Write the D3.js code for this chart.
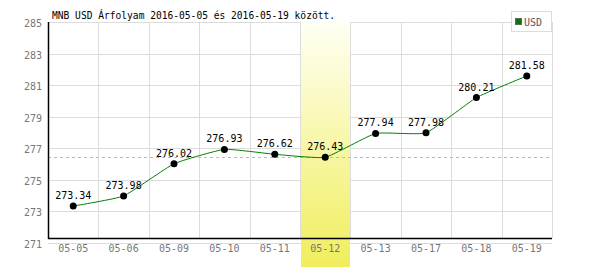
<!DOCTYPE html>
<html>
<head>
<meta charset="utf-8">
<script src="https://cdn.jsdelivr.net/npm/d3@7"></script>
<style>
  body { margin: 0; background: #fff; }
  text { font-family: "DejaVu Sans Mono", monospace; }
</style>
</head>
<body>
<div id="chart"></div>
<script>
// chart data
var dates = ["05-05", "05-06", "05-09", "05-10", "05-11", "05-12", "05-13", "05-17", "05-18", "05-19"];
var values = [273.34, 273.98, 276.02, 276.93, 276.62, 276.43, 277.94, 277.98, 280.21, 281.58];
var yTicks = [271, 273, 275, 277, 279, 281, 283, 285];
var highlightDate = "05-12";
var seriesName = "USD";
var title = "MNB USD Árfolyam 2016-05-05 és 2016-05-19 között.";

var svgWidth = 600;
var svgHeight = 270;

// plot edges (window.top is reserved, so prefix everything)
var plotLeft = 48, plotRight = 552, plotTop = 22, plotBottom = 243, axisY = 238;

var svg = d3.select("#chart")
  .append("svg")
  .attr("width", svgWidth)
  .attr("height", svgHeight);

var x = d3.scaleBand().domain(dates).range([plotLeft, plotRight]).padding(0);
var y = d3.scaleLinear().domain([271, 285]).range([plotBottom, plotTop]);
var cx = d => x(d) + x.bandwidth() / 2;

// gradient for highlighted day
var grad = svg.append("defs").append("linearGradient")
  .attr("id", "hl").attr("x1", 0).attr("y1", 0).attr("x2", 0).attr("y2", 1);
grad.append("stop").attr("offset", "0%").attr("stop-color", "#fffff4");
grad.append("stop").attr("offset", "100%").attr("stop-color", "#f0ee5c");

// horizontal grid
svg.append("g").selectAll("line")
  .data(yTicks)
  .enter()
  .append("line")
  .attr("x1", plotLeft).attr("x2", plotRight)
  .attr("y1", d => Math.round(y(d)) + 0.5).attr("y2", d => Math.round(y(d)) + 0.5)
  .attr("stroke", "#dcdcdc");

// vertical grid (band edges)
svg.append("g").selectAll("line")
  .data(dates)
  .enter()
  .append("line")
  .attr("x1", d => Math.round(x(d) + x.bandwidth()) + 0.5)
  .attr("x2", d => Math.round(x(d) + x.bandwidth()) + 0.5)
  .attr("y1", plotTop).attr("y2", axisY)
  .attr("stroke", "#dcdcdc");

// highlight band
svg.append("rect")
  .attr("x", Math.round(x(highlightDate)) + 1)
  .attr("y", plotTop)
  .attr("width", Math.round(x.bandwidth()) - 1)
  .attr("height", 267 - plotTop)
  .attr("fill", "url(#hl)");

// dashed reference line at highlighted value
var hv = values[dates.indexOf(highlightDate)];
svg.append("line")
  .attr("x1", plotLeft).attr("x2", plotRight - 2)
  .attr("y1", Math.round(y(hv)) + 0.5).attr("y2", Math.round(y(hv)) + 0.5)
  .attr("stroke", "#9fcf9f")
  .attr("stroke-dasharray", "3,3");

// axis lines
svg.append("line")
  .attr("x1", plotLeft + 0.5).attr("x2", plotLeft + 0.5)
  .attr("y1", plotTop).attr("y2", axisY + 1)
  .attr("stroke", "#000").attr("stroke-width", 1.5);
svg.append("line")
  .attr("x1", plotLeft).attr("x2", plotRight)
  .attr("y1", axisY + 0.5).attr("y2", axisY + 0.5)
  .attr("stroke", "#000").attr("stroke-width", 1.5);

// y axis labels
var yAxis = svg.append("g")
  .attr("transform", "translate(" + (plotLeft - 6) + ",0)")
  .call(d3.axisLeft(y).tickValues(yTicks).tickSize(0).tickPadding(0));
yAxis.select(".domain").remove();
yAxis.selectAll("text")
  .attr("font-family", "DejaVu Sans Mono")
  .attr("font-size", 10)
  .attr("fill", "#777")
  .attr("dy", "0.45em");

// x axis labels
var xAxis = svg.append("g")
  .attr("transform", "translate(0," + axisY + ")")
  .call(d3.axisBottom(x).tickSize(0).tickPadding(7));
xAxis.select(".domain").remove();
xAxis.selectAll("text")
  .attr("font-family", "DejaVu Sans Mono")
  .attr("font-size", 10)
  .attr("fill", "#777");

// line, lightly smoothed
var data = dates.map((d, i) => ({date: d, value: values[i]}));
var line = d3.line()
  .x(d => cx(d.date))
  .y(d => y(d.value))
  .curve(d3.curveCardinal.tension(0.6));

svg.append("path")
  .datum(data)
  .attr("d", line)
  .attr("fill", "none")
  .attr("stroke", "#008000")
  .attr("stroke-width", 1);

// dots
svg.append("g").selectAll("circle")
  .data(data)
  .enter()
  .append("circle")
  .attr("cx", d => cx(d.date))
  .attr("cy", d => y(d.value))
  .attr("r", 3.5)
  .attr("fill", "#000");

// value labels
svg.append("g").selectAll("text")
  .data(data)
  .enter()
  .append("text")
  .attr("x", d => cx(d.date))
  .attr("y", d => y(d.value) - 7)
  .attr("text-anchor", "middle")
  .attr("font-size", 10)
  .attr("fill", "#000")
  .text(d => d.value.toFixed(2));

// title
svg.append("text")
  .attr("x", 52)
  .attr("y", 19)
  .attr("font-size", 9.6)
  .attr("fill", "#000")
  .text(title);

// legend
svg.append("rect")
  .attr("x", 511.5).attr("y", 11.5)
  .attr("width", 40).attr("height", 20)
  .attr("fill", "#fff").attr("stroke", "#dcdcdc");
svg.append("rect")
  .attr("x", 515.5).attr("y", 18.5)
  .attr("width", 6).attr("height", 6)
  .attr("fill", "#007a00").attr("stroke", "#666");
svg.append("text")
  .attr("x", 524).attr("y", 25.5)
  .attr("font-size", 10)
  .attr("fill", "#555")
  .text(seriesName);
</script>
</body>
</html>
